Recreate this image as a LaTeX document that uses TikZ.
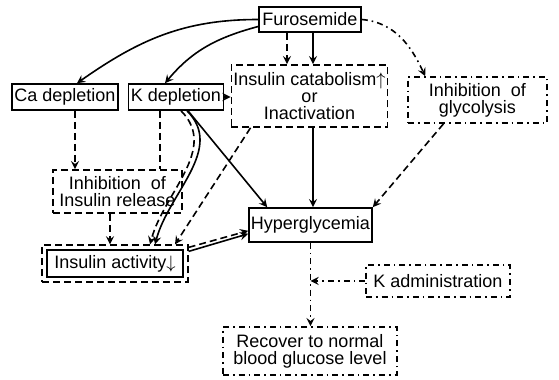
\documentclass[tikz,border=0pt]{standalone}
\usepackage{fontspec}
\setmainfont{Liberation Sans}
\usetikzlibrary{calc,fit,arrows}
\tikzset{
  box/.style={draw,thick,inner sep=1pt,align=center,font=\fontsize{9}{8.5}\selectfont},
  dbox/.style={box,dash pattern=on 3.5pt off 2pt},
  ddbox/.style={box,dash dot},
  dsh/.style={dash pattern=on 3.5pt off 2pt},
}
\begin{document}
\begin{tikzpicture}[x=0.5pt,y=-0.5pt,>=stealth,thick]
\useasboundingbox (0,0) rectangle (559,380);
% boxes
\node[box,minimum width=51pt,minimum height=12.5pt] (furo) at (310,19.5) {Furosemide};
\node[box,minimum width=53pt,minimum height=13pt] (ca) at (65,97) {Ca depletion};
\node[box,minimum width=47.5pt,minimum height=13pt] (kdep) at (176,97) {K depletion};
\node[dbox,minimum width=77.5pt,minimum height=31pt] (cat) at (309.5,96) {Insulin catabolism$\uparrow$\\or\\Inactivation};
\node[ddbox,minimum width=69.5pt,minimum height=23pt] (glyc) at (477.5,100) {Inhibition\ \ of\\glycolysis};
\node[dbox,minimum width=64.5pt,minimum height=21.5pt] (rel) at (117.5,191.5) {Inhibition\ \ of\\Insulin release};
\node[box,minimum width=61.5pt,minimum height=17pt] (hyp) at (310.5,225) {Hyperglycemia};
\node[box,minimum width=68pt,minimum height=13.5pt] (act) at (115,263.5) {Insulin activity$\downarrow$};
\node[draw,dsh,fit=(act),inner sep=2pt] (actout) {};
\node[ddbox,minimum width=72pt,minimum height=16pt] (kadm) at (438,281) {K administration};
\node[ddbox,minimum width=87pt,minimum height=24pt] (rec) at (310,351) {Recover to normal\\blood glucose level};
% from Furosemide
\draw[->] (furo.west) to[out=180,in=35] ($(ca.north)+(12,0)$);
\draw[->] ($(furo.west)+(0,7)$) to[out=195,in=50] ($(kdep.north)+(-11,0)$);
\draw[->,dsh] ($(furo.south)+(-23,0)$) coordinate (fd) -- (fd |- cat.north);
\draw[->] ($(furo.south)+(3,0)$) coordinate (fs) -- (fs |- cat.north);
\draw[->,dash dot] (furo.east) to[out=-5,in=115] ($(glyc.north west)+(18,0)$);
% depletions
\draw[->,dsh] (kdep.east) -- (kdep.east -| cat.west);
\draw[->,dsh] ($(ca.south)+(10,0)$) coordinate (cd) -- (cd |- rel.north);
\draw[dsh] ($(kdep.south)+(-16,0)$) coordinate (kd) -- (kd |- rel.north);
\draw[->,dsh] ($(rel.south)+(-7.5,0)$) coordinate (rd) -- (rd |- actout.north);
\draw[->] ($(kdep.south)+(11,0)$) to[out=-45,in=75] ($(actout.north)+(40,0)$);
\draw[->,dsh] ($(kdep.south)+(5,0)$) to[out=-45,in=75] ($(actout.north)+(35,0)$);
\draw[->,dsh] ($(cat.south west)+(20,0)$) -- ($(actout.north)+(60,0)$);
\draw[->] ($(kdep.south)+(12,0)$) -- ($(hyp.north west)+(19,0)$);
% to Hyperglycemia
\draw[->] ($(cat.south)+(3.5,0)$) coordinate (cs) -- (cs |- hyp.north);
\draw[->,dsh] ($(glyc.south)+(-34,0)$) -- (hyp.north east);
\draw[->] ($(actout.north east)+(0,7)$) -- ($(hyp.south west)+(0,-9)$);
\draw[->,dsh] ($(actout.north east)+(0,3)$) -- ($(hyp.south west)+(0,-12)$);
% recovery
\draw[->,dash dot] (hyp.south) -- (hyp.south |- rec.north);
\draw[->,dash dot] (kadm.west) -- (kadm.west -| hyp.south);
\end{tikzpicture}
\end{document}
